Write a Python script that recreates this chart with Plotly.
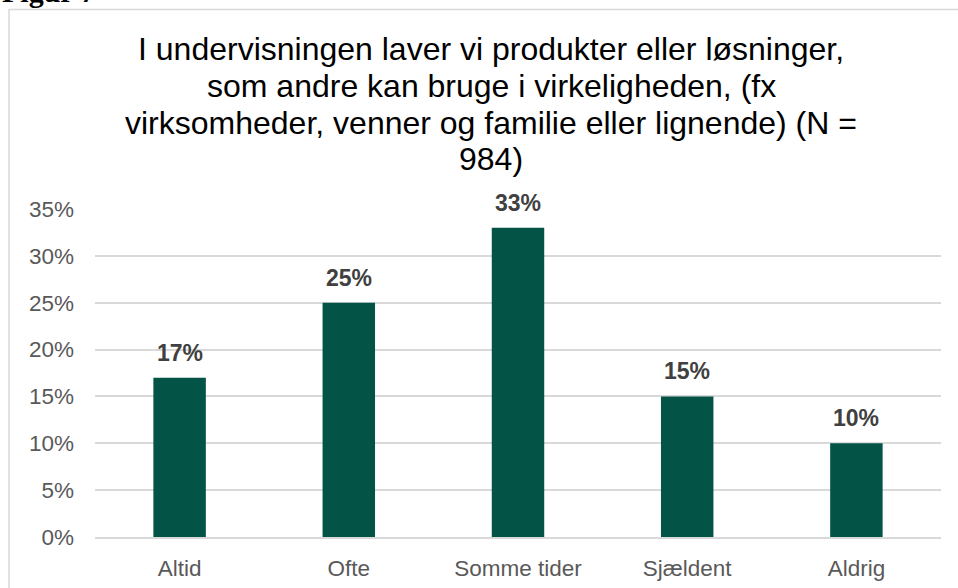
import plotly.graph_objects as go

categories = ["Altid", "Ofte", "Somme tider", "Sjældent", "Aldrig"]
values = [17, 25, 33, 15, 10]
value_labels = ["17%", "25%", "33%", "15%", "10%"]
tick_vals = [0, 5, 10, 15, 20, 25, 30, 35]
tick_text = ["0%", "5%", "10%", "15%", "20%", "25%", "30%", "35%"]
title_lines = [
    "I undervisningen laver vi produkter eller løsninger,",
    "som andre kan bruge i virkeligheden, (fx",
    "virksomheder, venner og familie eller lignende) (N =",
    "984)",
]
figure_label = "Figur 7"

W, H = 958, 588
L, R, T, B = 95, 17, 209, 51
pw, ph = W - L - R, H - T - B
FONT = "Liberation Sans, Arial, sans-serif"


def px_x(x):
    return (x - L) / pw


def px_y(y):
    return (H - B - y) / ph


fig = go.Figure(go.Bar(
    x=categories, y=values,
    marker=dict(color="#035446", line=dict(width=0)),
    hoverinfo="skip",
))

annotations = []
# title lines
title_mid = [49, 86, 123, 159]
for line, ym in zip(title_lines, title_mid):
    annotations.append(dict(
        text=line, xref="paper", yref="paper", x=px_x(491), y=px_y(ym),
        xanchor="center", yanchor="middle", showarrow=False,
        font=dict(family=FONT, size=32, color="#000000")))
# data labels
for c, v, t in zip(categories, values, value_labels):
    annotations.append(dict(
        text="<b>" + t + "</b>", x=c, y=v, xref="x", yref="y",
        xanchor="center", yanchor="bottom", yshift=10, showarrow=False,
        font=dict(family=FONT, size=23, color="#404040")))
# cut-off figure caption at the very top
annotations.append(dict(
    text="<b>" + figure_label + "</b>", xref="paper", yref="paper",
    x=px_x(0), y=px_y(9.5), xanchor="left", yanchor="bottom", showarrow=False,
    font=dict(family="Liberation Serif, Times New Roman, serif", size=30, color="#000000")))

fig.update_layout(
    width=W, height=H,
    margin=dict(l=L, r=R, t=T, b=B, autoexpand=False),
    paper_bgcolor="white", plot_bgcolor="white",
    bargap=0.69,
    showlegend=False,
    xaxis=dict(showgrid=False, showline=True, linecolor="#D9D9D9", linewidth=1.5,
               ticks="", ticklabelstandoff=10,
               tickfont=dict(family=FONT, size=22.5, color="#595959"),
               fixedrange=True),
    yaxis=dict(range=[0, 35], tickvals=tick_vals, ticktext=tick_text,
               showgrid=True, gridcolor="#D9D9D9", gridwidth=1.5, zeroline=False,
               showline=False, ticks="", ticklabelstandoff=20,
               tickfont=dict(family=FONT, size=22.5, color="#595959"),
               fixedrange=True),
    shapes=[dict(type="rect", xref="paper", yref="paper",
                 x0=px_x(9), x1=px_x(990), y0=px_y(620), y1=px_y(9.5),
                 line=dict(color="#D9D9D9", width=1.5), fillcolor="rgba(0,0,0,0)",
                 layer="below")],
    annotations=annotations,
)

fig.write_html("out.html", config={"displayModeBar": False},
               post_script="document.body.style.margin='0px';document.body.style.overflow='hidden';")
